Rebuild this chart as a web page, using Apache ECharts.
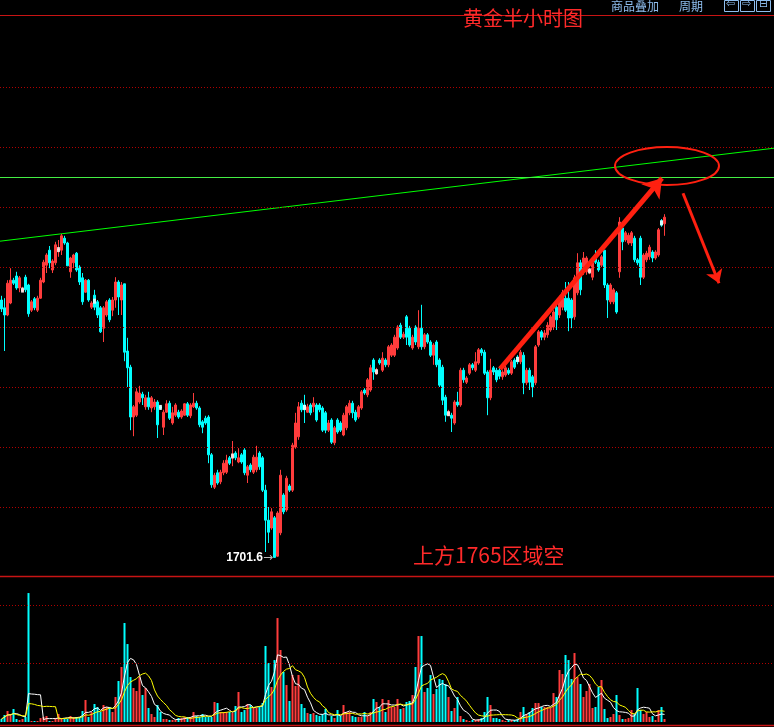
<!DOCTYPE html>
<html><head><meta charset="utf-8">
<script src="https://cdn.jsdelivr.net/npm/echarts@6.0.0/dist/echarts.min.js"></script>
<style>html,body{margin:0;padding:0;background:#000;}#c{width:774px;height:727px;}</style>
</head><body><div id="c"></div>
<script>
// Gold 30-minute bars (price)
const opens = [1744.5,1743.2,1742.0,1744.0,1747.8,1748.5,1746.5,1746.0,1748.3,1747.0,1742.8,1744.7,1742.8,1744.8,1747.5,1750.3,1752.8,1749.5,1750.7,1752.8,1752.8,1754.8,1754.0,1749.2,1750.7,1752.3,1750.0,1748.2,1745.8,1747.8,1743.3,1745.3,1744.2,1743.2,1739.8,1742.0,1744.5,1742.8,1744.5,1747.5,1744.5,1747.2,1736.0,1733.3,1725.0,1725.3,1727.5,1728.8,1726.7,1728.2,1726.5,1726.7,1727.5,1726.7,1723.3,1725.8,1727.3,1724.0,1725.3,1725.8,1725.0,1725.3,1727.2,1725.2,1726.7,1727.3,1726.5,1724.2,1724.8,1725.0,1718.7,1713.3,1715.7,1714.2,1715.7,1715.8,1718.2,1718.3,1719.0,1717.5,1718.7,1719.5,1715.3,1717.0,1715.8,1716.2,1719.0,1718.2,1712.8,1707.8,1706.5,1708.2,1701.8,1705.7,1712.0,1709.5,1713.5,1712.8,1720.0,1721.7,1727.3,1727.0,1725.8,1727.0,1726.7,1727.0,1727.0,1726.5,1725.7,1722.8,1724.5,1720.7,1724.5,1724.0,1722.0,1723.2,1725.7,1727.3,1725.8,1725.0,1726.5,1729.5,1728.7,1729.5,1734.5,1732.3,1734.5,1732.8,1734.5,1733.7,1735.3,1735.3,1736.5,1740.3,1738.3,1741.7,1739.8,1736.5,1740.0,1736.7,1739.8,1736.7,1738.7,1737.5,1735.3,1737.5,1734.5,1733.3,1728.3,1725.3,1725.3,1724.0,1727.5,1727.0,1732.8,1730.8,1732.3,1733.7,1732.8,1734.0,1736.2,1735.8,1732.5,1728.2,1733.2,1732.8,1732.8,1731.7,1732.0,1732.8,1732.3,1734.5,1735.0,1734.2,1735.3,1730.7,1732.8,1731.7,1730.7,1737.0,1739.2,1738.3,1738.7,1739.5,1740.0,1743.3,1742.0,1743.3,1744.8,1744.8,1744.5,1741.7,1745.7,1750.7,1749.2,1749.2,1749.2,1748.3,1752.0,1750.8,1750.3,1752.8,1747.0,1744.2,1744.2,1745.7,1749.2,1756.5,1754.5,1754.0,1754.0,1754.8,1751.2,1754.8,1748.3,1751.2,1751.7,1752.5,1751.5,1752.0,1757.7,1757.2];
const closes = [1743.0,1742.0,1747.3,1747.8,1747.3,1746.5,1748.2,1746.3,1746.2,1742.2,1744.2,1743.2,1744.8,1747.8,1750.8,1752.0,1750.7,1751.0,1753.7,1753.0,1755.2,1754.0,1750.2,1751.5,1752.0,1749.5,1747.5,1744.2,1747.8,1744.5,1744.0,1743.3,1742.0,1739.2,1743.2,1744.2,1741.2,1744.5,1747.5,1745.0,1747.0,1735.8,1733.2,1725.0,1726.7,1729.2,1729.0,1728.2,1728.2,1726.7,1728.2,1727.5,1723.7,1726.5,1725.8,1727.2,1724.8,1725.7,1727.0,1725.0,1726.0,1727.2,1725.3,1727.0,1727.3,1726.5,1723.7,1723.3,1724.0,1718.7,1713.7,1715.3,1714.0,1715.8,1717.3,1717.8,1717.3,1718.7,1718.2,1718.2,1717.5,1715.7,1716.7,1716.2,1718.3,1718.3,1716.7,1712.8,1707.8,1705.8,1709.2,1701.6,1709.0,1715.3,1709.2,1714.8,1712.8,1720.3,1724.0,1726.7,1726.2,1726.2,1726.7,1725.7,1727.3,1724.5,1726.2,1722.8,1722.8,1724.0,1720.8,1723.2,1722.5,1722.8,1725.3,1726.7,1727.3,1725.7,1724.5,1726.7,1729.2,1729.0,1731.2,1733.2,1732.5,1732.8,1734.0,1734.8,1733.7,1736.7,1737.0,1738.3,1740.0,1738.3,1738.8,1738.3,1737.0,1738.3,1737.5,1739.8,1736.7,1738.7,1737.5,1735.3,1737.0,1733.7,1730.3,1727.8,1725.3,1725.8,1724.8,1727.5,1727.0,1732.8,1731.2,1731.5,1733.7,1733.2,1734.2,1736.2,1735.7,1732.3,1728.2,1732.8,1732.5,1731.2,1731.8,1732.5,1733.2,1732.3,1734.2,1733.3,1734.2,1735.8,1730.7,1732.8,1730.8,1730.0,1736.7,1739.2,1738.3,1739.0,1740.3,1741.7,1742.5,1741.2,1744.8,1745.7,1742.8,1741.5,1741.5,1748.2,1750.7,1746.2,1751.5,1751.5,1749.5,1750.7,1750.8,1749.5,1751.7,1747.0,1744.5,1747.0,1746.2,1742.5,1757.5,1754.2,1755.7,1755.3,1755.7,1751.2,1750.7,1748.3,1752.0,1752.3,1753.3,1751.5,1752.5,1756.2,1757.0,1758.3];
const lows = [1742.5,1736.0,1741.8,1743.8,1747.0,1746.2,1745.8,1745.8,1745.8,1741.7,1742.5,1742.8,1742.5,1744.7,1747.3,1749.0,1749.8,1749.0,1750.3,1751.7,1752.0,1753.7,1750.2,1748.2,1749.8,1749.2,1747.0,1743.7,1745.7,1744.2,1743.0,1742.8,1741.5,1739.0,1737.5,1741.7,1740.8,1741.8,1743.2,1742.0,1742.0,1734.3,1730.0,1722.8,1721.8,1725.0,1727.2,1727.0,1726.2,1726.2,1725.8,1726.2,1721.5,1726.2,1722.0,1725.7,1724.5,1723.7,1725.0,1724.7,1724.7,1725.2,1725.0,1724.8,1726.5,1726.2,1723.3,1722.3,1723.7,1717.3,1713.2,1713.0,1713.7,1713.8,1715.3,1715.5,1717.0,1716.8,1717.8,1717.3,1717.2,1715.3,1714.0,1715.8,1715.5,1715.8,1716.2,1712.5,1702.5,1704.0,1706.2,1701.6,1701.7,1705.3,1708.8,1709.2,1712.5,1712.5,1719.7,1721.2,1725.8,1724.0,1725.7,1725.3,1725.8,1724.2,1725.8,1722.5,1722.3,1722.5,1720.5,1720.3,1722.2,1722.5,1721.8,1722.8,1725.3,1724.8,1724.2,1724.7,1726.2,1728.7,1728.3,1729.2,1731.2,1732.0,1733.7,1732.5,1733.3,1733.3,1735.0,1735.0,1736.2,1738.0,1738.0,1737.0,1736.7,1736.2,1737.0,1736.3,1736.2,1736.3,1737.2,1735.0,1733.7,1733.3,1730.0,1727.0,1724.2,1725.2,1722.5,1723.7,1726.7,1726.7,1730.7,1730.5,1732.0,1732.8,1732.5,1733.7,1735.2,1732.0,1725.3,1727.8,1732.0,1730.8,1731.3,1731.2,1731.7,1732.0,1732.0,1733.0,1733.8,1733.8,1728.8,1730.3,1729.5,1728.3,1730.3,1736.7,1737.8,1737.8,1738.2,1739.2,1739.5,1739.5,1741.5,1742.8,1742.5,1739.3,1739.8,1741.2,1745.3,1745.3,1748.7,1748.7,1748.8,1747.8,1750.5,1749.2,1750.0,1746.5,1741.5,1743.8,1743.8,1742.2,1748.2,1752.8,1754.2,1753.7,1753.5,1750.8,1750.3,1747.0,1748.0,1750.8,1751.2,1750.8,1751.2,1751.7,1756.7,1755.2];
const highs = [1745.2,1744.8,1747.8,1749.8,1748.2,1749.2,1748.5,1746.7,1748.7,1747.2,1744.5,1745.0,1745.2,1748.2,1751.2,1752.3,1753.5,1751.3,1754.2,1754.5,1755.5,1755.2,1754.2,1751.7,1752.2,1752.5,1750.3,1749.0,1748.0,1748.0,1744.3,1746.2,1744.5,1743.5,1743.5,1744.5,1744.8,1745.0,1748.3,1747.8,1747.5,1747.2,1738.2,1733.7,1727.0,1729.8,1730.2,1729.2,1728.7,1729.2,1728.5,1728.0,1727.8,1727.0,1726.2,1727.8,1727.7,1726.7,1727.3,1726.2,1726.3,1727.3,1727.5,1727.3,1729.0,1727.7,1726.8,1724.5,1725.2,1725.3,1719.0,1715.7,1716.2,1716.2,1717.8,1718.7,1718.5,1721.0,1719.3,1719.8,1719.0,1719.8,1717.0,1717.3,1718.7,1720.2,1719.3,1718.5,1713.7,1710.0,1709.8,1708.5,1709.3,1716.2,1712.3,1715.2,1713.8,1720.7,1725.7,1727.5,1727.8,1728.7,1727.2,1727.3,1728.3,1727.3,1727.3,1726.8,1726.0,1724.5,1724.8,1723.5,1724.8,1724.3,1725.7,1727.0,1727.8,1727.7,1726.2,1727.0,1729.5,1729.8,1731.5,1733.7,1734.8,1733.2,1734.8,1735.8,1734.8,1737.0,1737.3,1738.7,1740.3,1740.7,1739.2,1742.0,1740.2,1738.7,1740.3,1742.8,1743.7,1739.0,1739.0,1737.8,1737.3,1737.8,1734.8,1733.7,1728.7,1726.2,1725.7,1727.8,1729.2,1733.2,1733.2,1731.8,1734.0,1734.0,1735.8,1736.5,1736.5,1736.2,1732.8,1734.7,1733.5,1733.2,1733.5,1732.8,1733.5,1733.2,1734.5,1734.8,1735.3,1736.2,1735.8,1733.2,1733.2,1732.0,1737.0,1739.5,1739.5,1739.5,1740.8,1742.0,1742.8,1743.7,1745.2,1746.2,1747.5,1747.5,1744.8,1748.7,1752.3,1751.2,1752.5,1751.8,1749.8,1751.2,1752.8,1751.2,1752.0,1752.8,1747.3,1747.3,1746.5,1746.0,1758.3,1756.8,1756.0,1755.7,1756.0,1755.2,1751.5,1755.2,1752.3,1752.7,1753.7,1752.8,1752.8,1756.5,1758.0,1758.8];
// volume
const volumes = [51,120,188,137,223,51,34,51,86,2208,17,17,17,68,86,103,17,17,68,137,51,51,51,103,86,86,86,188,377,86,171,308,257,171,291,257,257,171,428,702,942,1695,
1335,770,582,531,770,462,582,240,137,86,291,171,51,51,34,34,34,68,68,86,86,86,171,103,86,137,86,86,86,342,325,171,171,171,171,154,274,514,171,205,308,291,240,240,257,325,
1301,1010,599,1061,1780,1233,856,633,360,805,616,805,308,240,154,137,154,120,103,137,223,34,103,68,205,103,291,171,171,103,86,86,86,171,103,171,394,342,257,394,171,377,257,257,394,223,240,342,360,462,
942,1472,1472,514,582,805,479,565,736,719,651,428,188,240,428,103,51,34,17,34,34,51,68,171,428,291,68,68,51,34,17,34,34,34,51,171,257,137,171,240,325,325,257,257,257,240,496,428,890,822,1147,1061,736,
1181,770,651,428,531,651,240,257,599,719,223,68,86,137,462,120,51,51,68,205,137,582,205,137,171,86,103,34,205,257,51];
// bars carrying the small white session marker
const sessionMarks = [7, 19, 31, 53, 77, 101, 125, 149, 172, 196, 220];
const priceGridLevels = [1710,1720,1730,1740,1750,1760,1770,1780];
const volGridLevels = [1000,2000];
const resistanceLevel = 1765;
const trendLine = [[0,1754.3],[774,1769.8]];
const slotCount = 258;

const UP = '#ff3c3c', DOWN = '#00ffff';
const slots = Array.from({length: slotCount}, (_, i) => 'T' + i);
const candleData = opens.map((o, i) => [o, closes[i], lows[i], highs[i]]);
const volData = volumes.map((v, i) => ({value: v, itemStyle: {color: closes[i] >= opens[i] ? UP : DOWN}}));
const markData = sessionMarks.map(i => [slots[i], (opens[i] + closes[i]) / 2]);
function ma(n) {
  return volumes.map((v, i) => {
    const s = Math.max(0, i - n + 1);
    let t = 0; for (let k = s; k <= i; k++) t += volumes[k];
    return +(t / (i - s + 1)).toFixed(1);
  });
}

const chart = echarts.init(document.getElementById('c'), null, {renderer: 'canvas'});
const dotted = {color: '#b00000', type: [1, 2], width: 1};
chart.setOption({
  backgroundColor: '#000',
  animation: false,
  grid: [
    {left: 0, right: 0, top: 15, height: 561},
    {left: 0, right: 0, top: 576, height: 146}
  ],
  xAxis: [
    {type: 'category', gridIndex: 0, data: slots, show: false, boundaryGap: true},
    {type: 'category', gridIndex: 1, data: slots, show: false, boundaryGap: true},
    {type: 'value', gridIndex: 0, min: 0, max: 774, show: false}
  ],
  yAxis: [
    {type: 'value', gridIndex: 0, min: 1698.5, max: 1792, show: false, splitLine: {show: false}},
    {type: 'value', gridIndex: 1, min: 0, max: 2500, show: false, splitLine: {show: false}}
  ],
  series: [
    {
      type: 'candlestick', xAxisIndex: 0, yAxisIndex: 0, data: candleData, barWidth: 1.6,
      itemStyle: {color: UP, color0: DOWN, borderColor: UP, borderColor0: DOWN, borderWidth: 1},
      markLine: {
        silent: true, symbol: ['none', 'none'], label: {show: false},
        lineStyle: dotted,
        data: priceGridLevels.map(v => ({yAxis: v})).concat([{yAxis: resistanceLevel, lineStyle: {color: '#44ee44', type: 'solid', width: 1}}])
      },
      markPoint: {
        symbol: 'circle', symbolSize: 1, itemStyle: {color: 'rgba(0,0,0,0)'},
        data: [{type: 'min', valueDim: 'lowest', label: {
          show: true, position: 'left', distance: 1,
          formatter: p => '{a|' + Number(p.value).toFixed(1) + '}{b|→}',
          rich: {a: {color: '#ffffff', fontWeight: 'bold', fontSize: 12, fontFamily: 'Liberation Sans'}, b: {color: '#bbbbbb', fontSize: 12, fontFamily: 'DejaVu Sans'}}
        }}]
      },
      z: 3
    },
    {
      type: 'scatter', xAxisIndex: 0, yAxisIndex: 0, data: markData, symbol: 'rect', symbolSize: [3, 5],
      itemStyle: {color: '#ffffff'}, silent: true, z: 4
    },
    {
      type: 'line', xAxisIndex: 2, yAxisIndex: 0, data: trendLine, symbol: 'none',
      lineStyle: {color: '#00ff00', width: 1}, silent: true, z: 2
    },
    {
      type: 'line', xAxisIndex: 2, yAxisIndex: 0, data: [], silent: true, z: 5,
      markLine: {
        silent: true, symbol: ['none', 'arrow'], symbolSize: 18, label: {show: false},
        lineStyle: {color: '#ff2010', width: 5, type: 'solid'},
        data: [[{coord: [500, 1733.0]}, {coord: [662, 1764.8]}]]
      }
    },
    {
      type: 'line', xAxisIndex: 2, yAxisIndex: 0, data: [], silent: true, z: 5,
      markLine: {
        silent: true, symbol: ['none', 'arrow'], symbolSize: 13, label: {show: false},
        lineStyle: {color: '#ff2010', width: 3, type: 'solid'},
        data: [[{coord: [683, 1762.3]}, {coord: [719, 1747.3]}]]
      }
    },
    {
      type: 'bar', xAxisIndex: 1, yAxisIndex: 1, data: volData, barWidth: 2,
      markLine: {
        silent: true, symbol: ['none', 'none'], label: {show: false}, lineStyle: dotted,
        data: volGridLevels.map(v => ({yAxis: v}))
      }
    },
    {type: 'line', xAxisIndex: 1, yAxisIndex: 1, data: ma(5), symbol: 'none', lineStyle: {color: '#ffffff', width: 1}, z: 4},
    {type: 'line', xAxisIndex: 1, yAxisIndex: 1, data: ma(10), symbol: 'none', lineStyle: {color: '#ffff00', width: 1}, z: 4}
  ],
  graphic: [
    {type: 'line', shape: {x1: 0, y1: 15.5, x2: 774, y2: 15.5}, style: {stroke: '#c81414', lineWidth: 1}, z: 10},
    {type: 'line', shape: {x1: 0, y1: 576.5, x2: 774, y2: 576.5}, style: {stroke: '#c81414', lineWidth: 1.5}, z: 10},
    {type: 'line', shape: {x1: 0, y1: 725.5, x2: 774, y2: 725.5}, style: {stroke: '#c81414', lineWidth: 1.5}, z: 10},
    {type: 'ellipse', shape: {cx: 667, cy: 166, rx: 52, ry: 19}, style: {fill: 'none', stroke: '#ff2010', lineWidth: 2}, z: 10},
    {type: 'text', x: 463, y: 8, style: {text: '黄金半小时图', fill: '#ff2a2a', font: '20px "Noto Sans CJK SC"'}, z: 10},
    {type: 'text', x: 413, y: 545, style: {text: '上方1765区域空', fill: '#ff2a2a', font: '21px "Noto Sans CJK SC"'}, z: 10},
    {type: 'text', x: 611, y: 0, style: {text: '商品叠加', fill: '#8fbff0', font: '12px "Noto Sans CJK SC"'}, z: 10},
    {type: 'text', x: 679, y: 0, style: {text: '周期', fill: '#8fbff0', font: '12px "Noto Sans CJK SC"'}, z: 10},
    {type: 'rect', shape: {x: 724.5, y: 0.5, width: 14, height: 11}, style: {fill: 'none', stroke: '#8fbff0', lineWidth: 1}, z: 10},
    {type: 'rect', shape: {x: 740.5, y: 0.5, width: 14, height: 11}, style: {fill: 'none', stroke: '#8fbff0', lineWidth: 1}, z: 10},
    {type: 'rect', shape: {x: 756.5, y: 0.5, width: 14, height: 11}, style: {fill: 'none', stroke: '#8fbff0', lineWidth: 1}, z: 10},
    {type: 'text', x: 726, y: -1, style: {text: '⇦', fill: '#8fbff0', font: '11px "DejaVu Sans"'}, z: 10},
    {type: 'text', x: 742, y: -1, style: {text: '⇨', fill: '#8fbff0', font: '11px "DejaVu Sans"'}, z: 10},
    {type: 'text', x: 759, y: -1, style: {text: '⊟', fill: '#8fbff0', font: '11px "DejaVu Sans"'}, z: 10}
  ]
});
</script>
</body></html>
